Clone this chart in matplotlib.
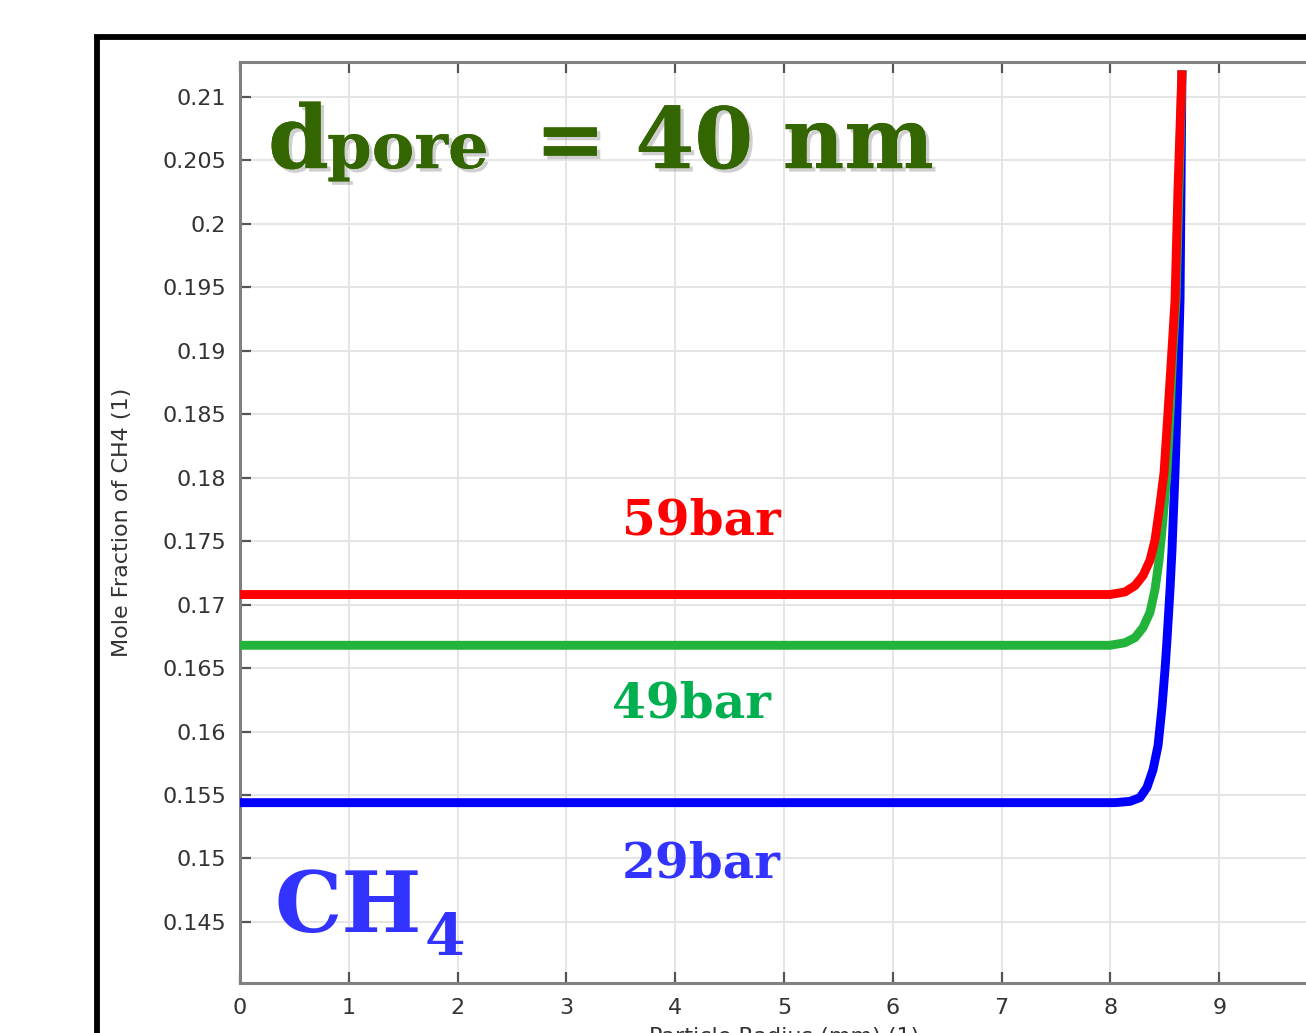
import matplotlib
matplotlib.use("Agg")
import matplotlib.pyplot as plt
import matplotlib.patheffects as pe
from matplotlib.patches import Rectangle
from matplotlib.ticker import FuncFormatter

# ---- data ----
x_59 = [0.0, 7.996, 8.134, 8.226, 8.300, 8.364, 8.410, 8.456, 8.493, 8.529, 8.566, 8.594, 8.621, 8.658]
y_59 = [0.1708, 0.1708, 0.1710, 0.1715, 0.1723, 0.1735, 0.1751, 0.1779, 0.1804, 0.1851,
        0.1901, 0.1940, 0.2027, 0.2121]

x_49 = [0.0, 7.996, 8.134, 8.226, 8.300, 8.364, 8.410, 8.447, 8.483, 8.520, 8.548, 8.575, 8.603, 8.630, 8.658]
y_49 = [0.1668, 0.1668, 0.1670, 0.1674, 0.1682, 0.1694, 0.1712, 0.1735, 0.1767, 0.1804,
        0.1851, 0.1901, 0.1940, 0.2027, 0.2121]

x_29 = [0.0, 8.042, 8.180, 8.272, 8.336, 8.392, 8.438, 8.474, 8.502, 8.520, 8.548, 8.566,
        8.594, 8.621, 8.640, 8.649, 8.658]
y_29 = [0.1544, 0.1544, 0.1545, 0.1548, 0.1556, 0.1570, 0.1589, 0.1619, 0.1649, 0.1672,
        0.1712, 0.1743, 0.1804, 0.1877, 0.1940, 0.2027, 0.2121]

x_ticks = [0, 1, 2, 3, 4, 5, 6, 7, 8, 9]
y_ticks = [0.145, 0.15, 0.155, 0.16, 0.165, 0.17, 0.175, 0.18, 0.185, 0.19, 0.195, 0.2, 0.205, 0.21]

x_label = "Particle Radius (mm) (1)"
y_label = "Mole Fraction of CH4 (1)"

# ---- figure ----
W, H = 1306, 1033
fig = plt.figure(figsize=(W / 100, H / 100), dpi=100)
fig.patch.set_facecolor("white")

# black slide frame (extends past the cropped edges)
fig.patches.append(Rectangle((97 / W, -0.2), 1.5, 0.2 + (H - 37.5) / H,
                             transform=fig.transFigure, fill=False,
                             edgecolor="black", linewidth=4.2, clip_on=False))

ax = fig.add_axes([240 / W, (H - 983) / H, 1088 / W, (983 - 62) / H])
ax.set_xlim(0, 10)
ax.set_ylim(0.14019, 0.21276)

ax.grid(True, color="#e3e3e3", linewidth=1.3)
ax.set_axisbelow(True)

ax.plot(x_29, y_29, color="#0000ff", linewidth=6.4, solid_capstyle="butt",
        solid_joinstyle="round", zorder=3)
ax.plot(x_49, y_49, color="#22b33a", linewidth=6.4, solid_capstyle="butt",
        solid_joinstyle="round", zorder=4)
ax.plot(x_59, y_59, color="#ff0000", linewidth=6.4, solid_capstyle="butt",
        solid_joinstyle="round", zorder=5)

ax.set_xticks(x_ticks)
ax.set_yticks(y_ticks)
ax.yaxis.set_major_formatter(FuncFormatter(lambda v, p: f"{v:g}"))
ax.tick_params(axis="both", direction="in", length=8, width=1.6, color="#555555",
               labelsize=16, labelcolor="#333333", top=True, right=True)
ax.tick_params(axis="y", pad=10)
ax.tick_params(axis="x", pad=11)
for s in ax.spines.values():
    s.set_color("#808080")
    s.set_linewidth(2.2)

ax.set_xlabel(x_label, fontsize=16, color="#333333", labelpad=6)
ax.set_ylabel(y_label, fontsize=16, color="#333333", labelpad=22)

# ---- annotations ----
shadow = [pe.withSimplePatchShadow(offset=(2.5, -2.5), shadow_rgbFace="#888888", alpha=0.4),
          pe.Normal()]
serif = "DejaVu Serif"
ax.text(0.257, 0.2044, "d", fontsize=63, fontweight="bold", family=serif,
        color="#336600", va="baseline", ha="left", path_effects=shadow, zorder=6)
ax.text(0.80, 0.2044, "pore", fontsize=46, fontweight="bold", family=serif,
        color="#336600", va="baseline", ha="left", path_effects=shadow, zorder=6)
ax.text(2.71, 0.2044, "= 40 nm", fontsize=61, fontweight="bold", family=serif,
        color="#336600", va="baseline", ha="left", path_effects=shadow, zorder=6)

ax.text(3.51, 0.1755, "59bar", fontsize=35, fontweight="bold", family=serif,
        color="#ff0000", va="baseline", ha="left", zorder=6)
ax.text(3.42, 0.1611, "49bar", fontsize=35, fontweight="bold", family=serif,
        color="#00b050", va="baseline", ha="left", zorder=6)
ax.text(3.51, 0.1485, "29bar", fontsize=35, fontweight="bold", family=serif,
        color="#3333ff", va="baseline", ha="left", zorder=6)

ax.text(0.32, 0.1442, "CH", fontsize=61, fontweight="bold", family=serif,
        color="#3333ff", va="baseline", ha="left", zorder=6)
ax.text(1.70, 0.1424, "4", fontsize=42, fontweight="bold", family=serif,
        color="#3333ff", va="baseline", ha="left", zorder=6)

fig.savefig("out.png", dpi=100, facecolor="white")
